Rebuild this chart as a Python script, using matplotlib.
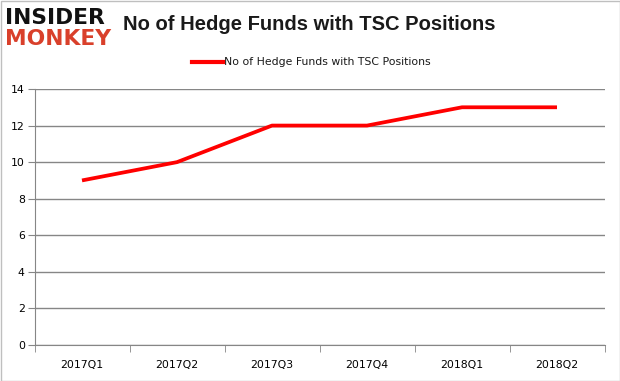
import matplotlib
matplotlib.use("Agg")
import matplotlib.pyplot as plt
from matplotlib.lines import Line2D

categories = ["2017Q1", "2017Q2", "2017Q3", "2017Q4", "2018Q1", "2018Q2"]
values = [9, 10, 12, 12, 13, 13]
yticks = [0, 2, 4, 6, 8, 10, 12, 14]
series_name = "No of Hedge Funds with TSC Positions"

W, H = 620, 381
fig = plt.figure(figsize=(W/100, H/100), dpi=100)
ax = fig.add_axes([34.5/W, 1-345/H, (604.5-34.5)/W, (345-89)/H])

x = list(range(len(categories)))
ax.plot(x, values, color="#ff0000", lw=2.7, solid_capstyle="butt", zorder=3)
ax.set_xlim(-0.5, len(categories)-0.5)
ax.set_ylim(0, 14)
ax.set_yticks(yticks)
ax.set_yticklabels([str(v) for v in yticks], fontsize=7.8, family="DejaVu Sans")
ax.set_xticks(x)
ax.set_xticklabels(categories, fontsize=7.8, family="DejaVu Sans")
ax.tick_params(axis="x", length=0, pad=11)
ax.tick_params(axis="y", length=5, color="#868686", pad=2)
ax.set_xticks([i-0.5 for i in range(len(categories)+1)], minor=True)
ax.tick_params(axis="x", which="minor", length=5, color="#868686")
ax.grid(axis="y", color="#868686", lw=1)
ax.set_axisbelow(True)
for s in ["top", "right"]:
    ax.spines[s].set_visible(False)
ax.spines["left"].set_color("#868686")
ax.spines["bottom"].set_color("#868686")

# title
fig.text(309/W, 1-25/H, series_name, ha="center", va="center", fontsize=14.5,
         fontweight="bold", family="Liberation Sans", color="#1a1a1a")

# legend
fig.add_artist(Line2D([192/W, 223/W], [1-62/H, 1-62/H], color="#ff0000", lw=3.0))
fig.text(224/W, 1-62/H, series_name, ha="left", va="center", fontsize=7.8,
         family="DejaVu Sans", color="#1a1a1a")

# logo
fig.text(5/W, 1-18/H, "INSIDER", ha="left", va="center", fontsize=15.7,
         fontweight="heavy", family="DejaVu Sans", color="#111111")
fig.text(5/W, 1-39/H, "MONKEY", ha="left", va="center", fontsize=15.7,
         fontweight="heavy", family="DejaVu Sans", color="#d9402b")

# border
fig.add_artist(plt.Rectangle((0.5/W, 0.5/H), 1-1/W, 1-1/H, fill=False,
               edgecolor="#bfbfbf", lw=1, transform=fig.transFigure))

fig.savefig("out.png", dpi=100)
